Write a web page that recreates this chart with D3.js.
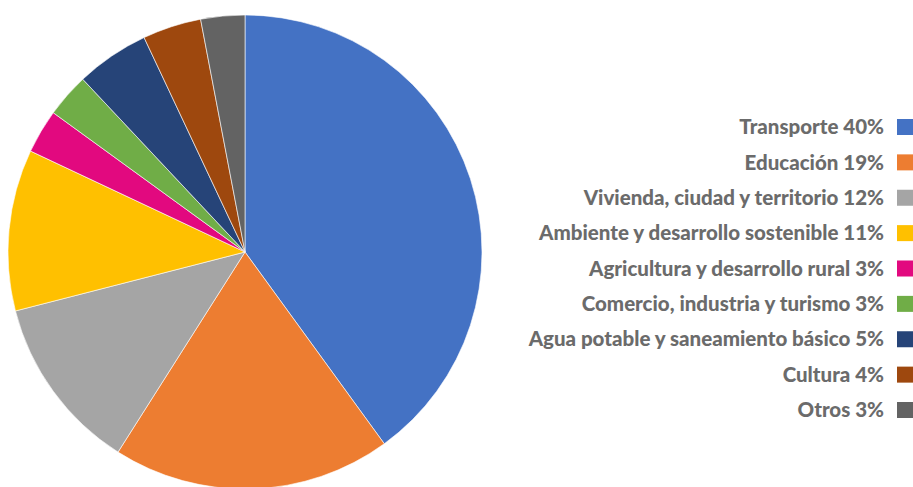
<!DOCTYPE html>
<html lang="es">
<head>
<meta charset="utf-8">
<script src="https://cdn.jsdelivr.net/npm/d3@7"></script>
<style>
  body { margin: 0; background: #fff; }
  svg { display: block; }
</style>
</head>
<body>
<div id="chart"></div>
<script>
  let w = 913
  let h = 487

  // sector names and shares (%)
  let categories = [
    'Transporte',
    'Educación',
    'Vivienda, ciudad y territorio',
    'Ambiente y desarrollo sostenible',
    'Agricultura y desarrollo rural',
    'Comercio, industria y turismo',
    'Agua potable y saneamiento básico',
    'Cultura',
    'Otros'
  ]
  let shares = [40, 19, 12, 11, 3, 3, 5, 4, 3]
  let colors = ['#4472C4', '#ED7D31', '#A5A5A5', '#FFC000', '#E2097F', '#70AD47', '#264478', '#9E480E', '#636363']

  let dataset = categories.map((c, i) => ({ name: c, value: shares[i] }))

  let cx = 245
  let cy = 252
  let radius = 237

  let svg = d3.select('#chart')
    .append('svg')
    .attr('width', w)
    .attr('height', h)

  let pie = d3.pie()
    .sort(null)
    .value(d => d.value)

  let arc = d3.arc()
    .innerRadius(0)
    .outerRadius(radius)

  let color = d3.scaleOrdinal()
    .domain(categories)
    .range(colors)

  svg.append('g')
    .attr('transform', 'translate(' + cx + ',' + cy + ')')
    .selectAll('path')
    .data(pie(dataset))
    .enter()
    .append('path')
    .attr('d', arc)
    .attr('fill', d => color(d.data.name))
    .attr('stroke', '#ffffff')
    .attr('stroke-width', 0.6)

  // legend, right aligned next to the swatches
  let legendY = d3.scalePoint()
    .domain(categories)
    .range([127, 410])

  let legend = svg.append('g')
    .selectAll('g')
    .data(dataset)
    .enter()
    .append('g')
    .attr('transform', d => 'translate(0,' + legendY(d.name) + ')')

  legend.append('rect')
    .attr('x', 897)
    .attr('y', -8)
    .attr('width', 16)
    .attr('height', 16)
    .attr('fill', d => color(d.name))

  legend.append('text')
    .attr('x', 884)
    .attr('y', 0)
    .attr('dy', '0.35em')
    .attr('text-anchor', 'end')
    .attr('font-family', 'Lato, sans-serif')
    .attr('font-weight', 900)
    .attr('font-size', '20.5px')
    .attr('fill', '#6b6b6b')
    .text(d => d.name + ' ' + d.value + '%')
</script>
</body>
</html>
